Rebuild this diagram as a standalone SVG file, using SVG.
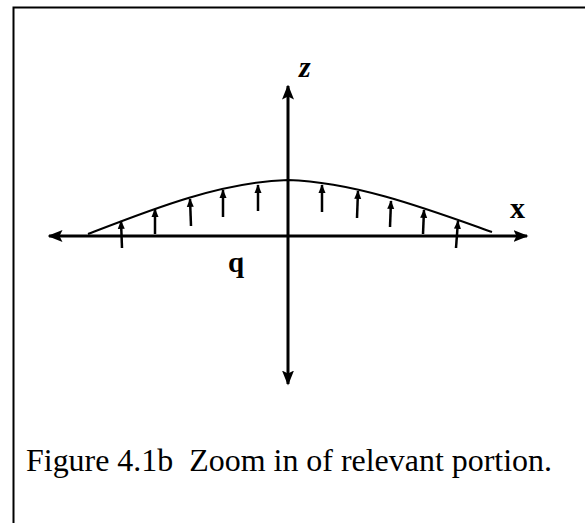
<svg xmlns="http://www.w3.org/2000/svg" width="585" height="523" viewBox="0 0 585 523">
<defs>
<style>
.ax{stroke:#000;stroke-width:3;fill:none}
.cv{stroke:#000;stroke-width:2;fill:none}
.ld{stroke:#000;stroke-width:2.5;fill:none}
.lbl{font-family:"Liberation Serif",serif;font-weight:bold;fill:#000}
.cap{font-family:"Liberation Serif",serif;font-size:32px;fill:#000;white-space:pre}
</style>
<marker id="big" viewBox="0 0 10 10" refX="9" refY="5" markerWidth="5" markerHeight="5" orient="auto-start-reverse" markerUnits="strokeWidth">
<path d="M0,1 L10,5 L0,9 L2,5 Z" fill="#000"/>
</marker>
<marker id="small" viewBox="0 0 10 10" refX="9" refY="5" markerWidth="3.5" markerHeight="3.5" orient="auto" markerUnits="strokeWidth">
<path d="M0,1 L10,5 L0,9 Z" fill="#000"/>
</marker>
</defs>
<rect x="0" y="0" width="585" height="523" fill="#fff"/>
<path d="M13.5,523 L13.5,7.5 L585,7.5" stroke="#000" stroke-width="2" fill="none"/>
<g id="connectors">
<line id="x-axis" class="ax" x1="49" y1="236" x2="527" y2="236" marker-start="url(#big)" marker-end="url(#big)"/>
<line id="z-axis" class="ax" x1="288" y1="86" x2="288" y2="384" marker-start="url(#big)" marker-end="url(#big)"/>
<path id="curve" class="cv" d="M88,234 C150,210 220,182 288,180 C356,182 430,210 492,232"/>
<g id="loads">
<line class="ld" x1="122" y1="248" x2="121" y2="221" marker-end="url(#small)"/>
<line class="ld" x1="155" y1="234" x2="155" y2="209" marker-end="url(#small)"/>
<line class="ld" x1="191" y1="226" x2="190" y2="199" marker-end="url(#small)"/>
<line class="ld" x1="223" y1="217" x2="223" y2="190" marker-end="url(#small)"/>
<line class="ld" x1="258" y1="211" x2="258" y2="185" marker-end="url(#small)"/>
<line class="ld" x1="322" y1="212" x2="322" y2="185" marker-end="url(#small)"/>
<line class="ld" x1="357" y1="218" x2="358" y2="191" marker-end="url(#small)"/>
<line class="ld" x1="390" y1="227" x2="391" y2="201" marker-end="url(#small)"/>
<line class="ld" x1="423" y1="234" x2="424" y2="210" marker-end="url(#small)"/>
<line class="ld" x1="456" y1="248" x2="458" y2="221" marker-end="url(#small)"/>
</g>
</g>
<g id="label-z"><text class="lbl" x="299" y="77" font-size="30" font-style="italic">z</text></g>
<g id="label-x"><text class="lbl" x="510" y="218" font-size="30">x</text></g>
<g id="label-q"><text class="lbl" x="228" y="272" font-size="29">q</text></g>
<g id="caption"><text class="cap" x="26" y="471" textLength="526" lengthAdjust="spacingAndGlyphs">Figure 4.1b  Zoom in of relevant portion.</text></g>
</svg>
